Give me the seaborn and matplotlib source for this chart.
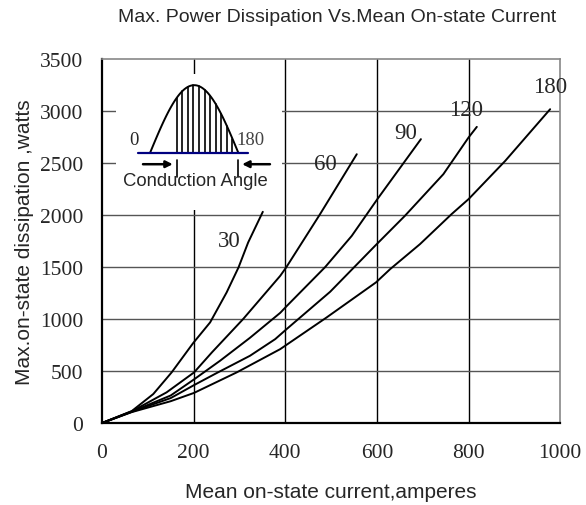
"""
Max. power dissipation vs. mean on-state current (thyristor datasheet chart).
"""
import numpy as np
import pandas as pd
import seaborn as sns
import matplotlib.pyplot as plt
from matplotlib.patches import Rectangle

# Curves, one per conduction angle (degrees)
angle_30_x = [0, 65, 112, 152, 199, 236, 272, 298, 319, 351]
angle_30_y = [0, 115, 279, 487, 769, 968, 1256, 1497, 1737, 2032]

angle_60_x = [0, 65, 141, 201, 240, 308, 389, 402, 476, 556]
angle_60_y = [0, 112, 295, 487, 680, 1000, 1416, 1497, 2010, 2586]

angle_90_x = [0, 65, 150, 201, 258, 323, 389, 402, 487, 545, 601, 696]
angle_90_y = [0, 110, 265, 420, 600, 820, 1060, 1120, 1500, 1800, 2154, 2731]

angle_120_x = [0, 65, 150, 201, 250, 323, 378, 402, 498, 596, 661, 745, 800, 818]
angle_120_y = [0, 108, 240, 365, 480, 647, 807, 900, 1263, 1705, 1993, 2394, 2747, 2849]

angle_180_x = [0, 65, 150, 201, 294, 389, 490, 598, 629, 694, 763, 800, 880, 978]
angle_180_y = [0, 105, 210, 290, 487, 711, 1015, 1353, 1481, 1721, 2010, 2154, 2522, 3019]

curve_names = ["30", "60", "90", "120", "180"]
label_x = [278, 488, 663, 794, 978]
label_y = [1753, 2500, 2795, 3019, 3237]

x_ticks = [0, 200, 400, 600, 800, 1000]
y_ticks = [0, 500, 1000, 1500, 2000, 2500, 3000, 3500]


def main():
    """
    Main method.
    """
    frames = []
    for name, xs, ys in zip(curve_names,
                            [angle_30_x, angle_60_x, angle_90_x, angle_120_x, angle_180_x],
                            [angle_30_y, angle_60_y, angle_90_y, angle_120_y, angle_180_y]):
        frames.append(pd.DataFrame({"current": xs, "power": ys, "angle": name}))
    df = pd.concat(frames, ignore_index=True)

    sns.set_style("white")
    plt.rcParams["font.family"] = ["Liberation Sans", "DejaVu Sans"]

    fig = plt.figure(figsize=(5.86, 5.06), dpi=100)
    ax = fig.add_axes([0.174, 0.162, 0.782, 0.719])

    sns.lineplot(data=df, x="current", y="power", units="angle", estimator=None,
                 color="black", linewidth=1.4, sort=False, ax=ax)

    ax.set_xlim(0, 1000)
    ax.set_ylim(0, 3500)
    ax.set_xticks(x_ticks)
    ax.set_yticks(y_ticks)
    ax.tick_params(axis="x", length=0, pad=14.5)
    ax.tick_params(axis="y", length=0, pad=13.5)
    for lab in ax.get_xticklabels() + ax.get_yticklabels():
        lab.set_family("Liberation Serif")
        lab.set_fontsize(15.5)

    for x in x_ticks[1:-1]:
        ax.axvline(x, color="black", linewidth=1.0, zorder=0)
    for y in y_ticks[1:-1]:
        ax.axhline(y, color="#555555", linewidth=1.0, zorder=0)

    for side in ["left", "bottom"]:
        ax.spines[side].set_color("black")
        ax.spines[side].set_linewidth(1.6)
    for side in ["top", "right"]:
        ax.spines[side].set_color("#888888")
        ax.spines[side].set_linewidth(1.2)

    for name, lx, ly in zip(curve_names, label_x, label_y):
        ax.text(lx, ly, name, family="Liberation Serif", fontsize=16.5,
                ha="center", va="center")

    ax.set_xlabel("Mean on-state current,amperes", fontsize=15, labelpad=14)
    ax.set_ylabel("Max.on-state dissipation ,watts", fontsize=15, labelpad=4)
    fig.text(0.576, 0.966, "Max. Power Dissipation Vs.Mean On-state Current",
             fontsize=14, ha="center", va="center")

    # Conduction angle sketch in the upper left corner (white box over the grid)
    box = [0.031, 0.585, 0.362, 0.374]
    ax.add_patch(Rectangle((box[0], box[1]), box[2], box[3], transform=ax.transAxes,
                           facecolor="white", edgecolor="none", zorder=1))
    ins = ax.inset_axes(box, zorder=3)
    ins.patch.set_alpha(0)
    ins.set_xlim(-69, 269)
    ins.set_ylim(-0.846, 1.163)
    ins.set_xticks([])
    ins.set_yticks([])
    for sp in ins.spines.values():
        sp.set_visible(False)
    deg = np.linspace(0, 180, 60)
    ins.plot(deg, np.sin(np.radians(deg)), color="black", linewidth=1.4)
    for d in np.arange(54, 175, 11.4):
        ins.plot([d, d], [0, np.sin(np.radians(d))], color="black", linewidth=1.2)
    ins.plot([-25, 200], [0, 0], color="navy", linewidth=1.6)
    ins.annotate("", xy=(52, -0.167), xytext=(-20, -0.167),
                 arrowprops=dict(arrowstyle="-|>", color="black", lw=1.8,
                                 mutation_scale=10))
    ins.annotate("", xy=(182, -0.167), xytext=(250, -0.167),
                 arrowprops=dict(arrowstyle="-|>", color="black", lw=1.8,
                                 mutation_scale=10))
    ins.plot([54, 54], [-0.1, -0.36], color="black", linewidth=1.2)
    ins.plot([180, 180], [-0.1, -0.36], color="black", linewidth=1.2)
    ins.text(-32, 0.2, "0", family="Liberation Serif", fontsize=13.5,
             ha="center", va="center")
    ins.text(205, 0.2, "180", family="Liberation Serif", fontsize=13.5,
             ha="center", va="center", color="#444444")
    ins.text(92, -0.41, "Conduction Angle", fontsize=13.3,
             ha="center", va="center")

    fig.savefig("out.png", dpi=100)


if __name__ == "__main__":
    main()
